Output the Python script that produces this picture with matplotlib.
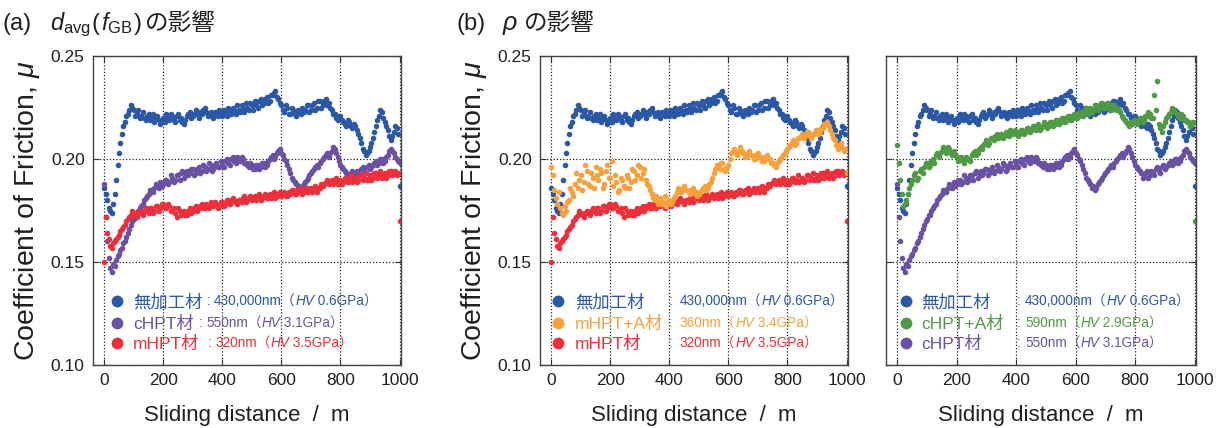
import matplotlib
matplotlib.use('Agg')
import matplotlib.pyplot as plt
from matplotlib.lines import Line2D
import numpy as np

plt.rcParams['font.family'] = ['Liberation Sans', 'Noto Sans CJK JP']
plt.rcParams['mathtext.fontset'] = 'custom'
plt.rcParams['mathtext.rm'] = 'Liberation Sans'
plt.rcParams['mathtext.it'] = 'Liberation Sans:italic'

# ---------------- data (5 m sampling) ----------------
distance = np.arange(0, 1001, 5)

mu_unprocessed = [  # 無加工材
    .186, .183, .180, .176, .175, .174, .178, .183, .190, .197, .203, .208, .212, .216, .218, .221, .222, .224, .226, .225,
    .224, .221, .222, .224, .220, .221, .223, .220, .219, .221, .222, .219, .220, .222, .218, .220, .221, .219, .217, .219,
    .220, .218, .222, .220, .219, .222, .221, .219, .218, .221, .222, .219, .220, .218, .217, .219, .221, .222, .223, .220,
    .221, .222, .224, .222, .220, .223, .222, .224, .225, .223, .221, .222, .223, .221, .220, .223, .222, .221, .224, .222,
    .221, .224, .223, .221, .225, .223, .222, .225, .224, .222, .226, .224, .223, .226, .225, .223, .227, .225, .224, .227,
    .226, .224, .228, .226, .225, .228, .229, .226, .227, .229, .230, .227, .228, .231, .231, .232, .233, .230, .229, .227,
    .226, .224, .223, .226, .225, .222, .222, .225, .224, .222, .221, .224, .223, .222, .225, .223, .224, .226, .226, .223,
    .224, .226, .227, .224, .225, .228, .228, .225, .226, .228, .229, .226, .227, .225, .224, .222, .222, .220, .219, .221,
    .221, .219, .218, .217, .216, .219, .218, .216, .215, .217, .216, .214, .212, .210, .208, .205, .204, .202, .203, .204,
    .206, .208, .210, .213, .216, .219, .221, .224, .223, .220, .218, .216, .214, .211, .209, .211, .213, .216, .215, .212,
    .187]

mu_chpt = [  # cHPT材
    .188, .172, .160, .152, .147, .145, .149, .148, .151, .153, .154, .156, .157, .159, .160, .162, .164, .166, .168, .170,
    .171, .173, .173, .175, .176, .177, .178, .180, .181, .182, .183, .185, .185, .184, .186, .188, .187, .186, .189, .187,
    .188, .190, .190, .188, .189, .192, .191, .189, .190, .192, .192, .190, .193, .194, .191, .193, .194, .192, .193, .195,
    .195, .192, .193, .195, .196, .193, .194, .197, .196, .194, .195, .198, .197, .194, .195, .197, .198, .196, .196, .199,
    .197, .196, .199, .200, .198, .197, .200, .201, .199, .198, .201, .200, .199, .201, .200, .198, .198, .197, .196, .198,
    .197, .195, .195, .197, .197, .195, .196, .198, .198, .196, .197, .199, .200, .201, .202, .200, .201, .203, .204, .205,
    .203, .202, .200, .199, .197, .195, .193, .191, .190, .189, .188, .186, .187, .185, .186, .188, .189, .190, .191, .192,
    .193, .194, .195, .196, .197, .196, .198, .199, .200, .201, .202, .203, .201, .203, .204, .206, .205, .203, .201, .199,
    .197, .196, .195, .194, .193, .191, .192, .193, .194, .191, .192, .194, .193, .192, .195, .196, .194, .193, .196, .197,
    .195, .196, .197, .198, .199, .197, .198, .200, .200, .198, .199, .201, .202, .204, .205, .204, .203, .201, .200, .199,
    .198]

mu_mhpt = [  # mHPT材
    .150, .172, .164, .161, .158, .157, .159, .160, .161, .162, .163, .165, .166, .167, .168, .170, .171, .172, .173, .175,
    .174, .173, .172, .174, .175, .174, .173, .175, .176, .175, .174, .176, .176, .174, .175, .177, .177, .175, .176, .178,
    .178, .176, .176, .178, .177, .175, .175, .176, .174, .172, .176, .175, .173, .174, .175, .173, .173, .175, .176, .174,
    .175, .176, .177, .175, .176, .177, .178, .176, .176, .178, .177, .176, .179, .178, .177, .179, .178, .176, .177, .179,
    .179, .177, .178, .180, .180, .178, .179, .181, .180, .179, .178, .180, .180, .179, .181, .182, .179, .180, .181, .182,
    .180, .181, .182, .180, .181, .183, .180, .181, .182, .183, .181, .182, .183, .181, .182, .184, .181, .182, .183, .184,
    .182, .183, .184, .182, .182, .184, .183, .185, .185, .183, .183, .185, .184, .186, .183, .184, .185, .186, .184, .185,
    .186, .184, .185, .187, .184, .186, .186, .188, .187, .188, .189, .190, .188, .189, .190, .188, .189, .191, .188, .189,
    .190, .188, .189, .191, .191, .189, .190, .192, .189, .190, .191, .189, .190, .192, .192, .190, .191, .193, .190, .191,
    .192, .190, .191, .193, .193, .191, .192, .194, .191, .192, .193, .191, .192, .194, .194, .192, .193, .194, .192, .193,
    .170]

mu_mhpt_a = [  # mHPT+A材
    .196, .192, .185, .181, .178, .184, .176, .174, .173, .177, .175, .179, .180, .186, .184, .182, .188, .193, .186, .190,
    .192, .185, .189, .197, .194, .188, .187, .193, .191, .186, .196, .192, .190, .195, .193, .186, .188, .194, .197, .191,
    .191, .199, .187, .192, .189, .184, .185, .191, .190, .187, .186, .192, .191, .186, .189, .195, .194, .190, .192, .197,
    .196, .191, .193, .195, .190, .188, .187, .185, .183, .181, .180, .182, .178, .180, .181, .178, .179, .182, .177, .179,
    .180, .178, .179, .181, .182, .184, .186, .185, .184, .186, .187, .185, .185, .184, .183, .185, .186, .184, .184, .182,
    .183, .184, .185, .186, .187, .185, .186, .188, .189, .191, .193, .195, .197, .196, .195, .198, .198, .195, .194, .196,
    .197, .200, .203, .204, .205, .203, .202, .204, .206, .204, .203, .201, .201, .203, .204, .202, .202, .200, .200, .202,
    .203, .201, .201, .199, .199, .201, .202, .200, .200, .198, .198, .197, .196, .198, .199, .200, .201, .202, .203, .204,
    .205, .206, .207, .208, .209, .207, .208, .210, .210, .211, .212, .210, .211, .213, .213, .211, .210, .212, .212, .214,
    .214, .212, .213, .215, .215, .217, .217, .218, .216, .214, .212, .210, .209, .207, .205, .207, .208, .206, .204, .205,
    .193]

mu_chpt_a = [  # cHPT+A材
    .207, .198, .190, .183, .177, .178, .180, .183, .186, .188, .190, .192, .193, .190, .191, .194, .195, .193, .196, .198,
    .198, .196, .197, .199, .200, .198, .202, .203, .201, .203, .204, .206, .205, .203, .206, .205, .203, .202, .204, .202,
    .201, .199, .200, .201, .199, .198, .201, .200, .200, .199, .202, .203, .204, .202, .203, .205, .206, .205, .207, .208,
    .209, .207, .208, .210, .210, .209, .211, .212, .210, .211, .212, .210, .211, .213, .212, .211, .214, .213, .212, .214,
    .213, .211, .212, .214, .214, .212, .213, .215, .215, .213, .214, .216, .216, .214, .215, .217, .214, .215, .216, .218,
    .217, .215, .216, .218, .218, .216, .217, .219, .219, .217, .218, .220, .220, .218, .219, .221, .221, .219, .220, .222,
    .222, .220, .221, .223, .223, .221, .224, .225, .222, .224, .225, .223, .224, .226, .226, .224, .225, .227, .227, .225,
    .225, .227, .226, .224, .224, .226, .226, .224, .225, .224, .223, .221, .220, .219, .218, .217, .216, .218, .217, .219,
    .219, .217, .218, .220, .220, .218, .219, .221, .221, .223, .222, .220, .220, .231, .224, .238, .217, .215, .213, .216,
    .218, .220, .221, .222, .223, .225, .224, .223, .222, .221, .220, .222, .221, .219, .219, .218, .218, .216, .217, .218,
    .170]

x_ticks = [0, 200, 400, 600, 800, 1000]
y_ticks = [0.10, 0.15, 0.20, 0.25]
y_ticklabels = ['0.10', '0.15', '0.20', '0.25']

labels = {'un': '無加工材', 'c': 'cHPT材', 'm': 'mHPT材', 'ma': 'mHPT+A材', 'ca': 'cHPT+A材'}
grain = {'un': '430,000nm', 'c': '550nm', 'm': '320nm', 'ma': '360nm', 'ca': '590nm'}
hardness = {'un': '0.6GPa', 'c': '3.1GPa', 'm': '3.5GPa', 'ma': '3.4GPa', 'ca': '2.9GPa'}
series = {'un': mu_unprocessed, 'c': mu_chpt, 'm': mu_mhpt, 'ma': mu_mhpt_a, 'ca': mu_chpt_a}
colors = {'un': '#2b58a6', 'c': '#6a51a3', 'm': '#ec2f3a', 'ma': '#f7a03c', 'ca': '#4f9a44'}

# ---------------- figure ----------------
W, H = 1220, 428
fig = plt.figure(figsize=(W / 100, H / 100), dpi=100)
renderer = fig.canvas.get_renderer()
TXT = '#231f20'


def rect(l, t, r, b):
    return [l / W, 1 - b / H, (r - l) / W, (b - t) / H]


panels = [
    (rect(93, 56, 401, 365), ['un', 'c', 'm'], ['un', 'c', 'm'], True),
    (rect(540, 56, 848, 365), ['un', 'm', 'ma'], ['un', 'ma', 'm'], True),
    (rect(886, 56, 1196, 365), ['un', 'c', 'ca'], ['un', 'ca', 'c'], False),
]

axes = []
for pos, draw_order, leg_order, ylab in panels:
    ax = fig.add_axes(pos)
    for k in draw_order:
        ax.plot(distance, series[k], 'o', ms=4.0, mew=0, color=colors[k])
    ax.set_xlim(-38, 1005)
    ax.set_ylim(0.10, 0.25)
    ax.set_xticks(x_ticks)
    ax.set_yticks(y_ticks)
    if ylab:
        ax.set_yticklabels(y_ticklabels)
        ax.set_ylabel('Coefficient of Friction, $\\mu$', fontsize=20.5, color=TXT, labelpad=6)
    else:
        ax.set_yticklabels([])
    ax.set_xlabel('Sliding distance  /  m', fontsize=16, color=TXT, labelpad=12)
    ax.tick_params(direction='in', length=4, width=0.8, top=True, right=True,
                   labelsize=12.5, colors='#333333', labelcolor=TXT, pad=6)
    ax.grid(True, ls=(0, (1, 1.6)), color='#222222', lw=0.9)
    for s in ax.spines.values():
        s.set_color('#444444')
        s.set_linewidth(1.0)
    axes.append(ax)


def chain(x, y, pieces, color=TXT):
    """Draw text pieces on a shared baseline (pixel coords, y from top).
    Each piece is (text, kwargs[, gap_px]) and follows the previous one."""
    for p in pieces:
        s, kw = p[0], p[1]
        if len(p) > 2:
            x = x + p[2]
        t = fig.text(x / W, 1 - y / H, s, color=color, ha='left', va='baseline', **kw)
        x = t.get_window_extent(renderer).x1
    return x


TF = dict(fontsize=17)
# titles
chain(3, 30, [('(a)', TF)])
chain(50, 30, [('$d_{\\mathrm{avg}}$', TF), ('(', TF, 1),
               ('$f_{\\mathrm{GB}}$', TF, 1), (')', TF, 1),
               ('の影響', TF, 4)])
chain(457, 30, [('(b)', TF)])
chain(502, 30, [('$\\rho$', dict(fontsize=18)), ('の影響', TF, 6)])

# legends (custom rows: marker + label + value text)
legend_layout = [
    (117, 133, [207, 199, 208], [214, 206, 215]),
    (558, 575, [669, 669, 669], [680, 680, 680]),
    (906, 921, [1017, 1017, 1017], [1025, 1025, 1025]),
]
row_y = [301, 323, 343]
for (pos, draw_order, leg_order, ylab), (mx, lx, cxs, vxs) in zip(panels, legend_layout):
    for i, k in enumerate(leg_order):
        c = colors[k]
        y = row_y[i]
        fig.add_artist(Line2D([mx / W], [1 - y / H], marker='o', ms=8.5, mew=0,
                              color=c, transform=fig.transFigure))
        chain(lx, y + 6, [(labels[k], dict(fontsize=12.5))], color=c)
        chain(cxs[i], y + 4, [(':', dict(fontsize=9.8))], color=c)
        chain(vxs[i], y + 4, [(grain[k] + '（', dict(fontsize=9.8)),
                              ('HV', dict(fontsize=9.8, style='italic')),
                              (' ' + hardness[k] + '）', dict(fontsize=9.8))], color=c)

fig.savefig('out.png', dpi=100)
